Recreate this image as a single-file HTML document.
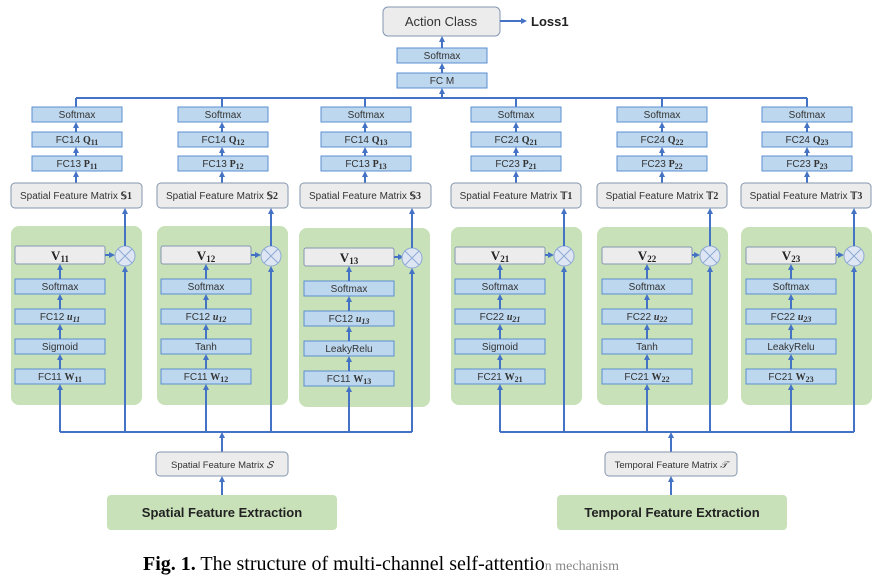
<!DOCTYPE html>
<html><head><meta charset="utf-8"><style>
body{margin:0;background:#fff}
svg{display:block}
text{font-family:"Liberation Sans",sans-serif;fill:#333}
.b{fill:#bdd7ee;stroke:#5b8fd0;stroke-width:1}
.g{fill:#ececec;stroke:#8496b0;stroke-width:1}
.p{fill:#c8e1b8}
.l{stroke:#4472c4;stroke-width:2;fill:none}
.t{font-size:10px;text-anchor:middle}
.v{font-family:"Liberation Serif",serif;font-weight:bold;font-size:13px;text-anchor:middle;fill:#222}
.s{font-family:"Liberation Serif",serif;font-weight:bold;font-size:8px}
.m{font-family:"Liberation Serif",serif;font-weight:bold}
</style></head><body>
<svg width="885" height="580" viewBox="0 0 885 580">
<defs><marker id="a" markerWidth="6" markerHeight="6" refX="4" refY="3" orient="auto" markerUnits="userSpaceOnUse"><path d="M0,0L6,3L0,6z" fill="#4472c4"/></marker></defs>

<!-- top -->
<rect x="383" y="7" width="117" height="29" rx="5" class="g"/>
<text x="441" y="26" class="t" style="font-size:13px">Action Class</text>
<line x1="500" y1="21" x2="525" y2="21" class="l" marker-end="url(#a)"/>
<text x="531" y="26" style="font-size:13px;font-weight:bold;fill:#222">Loss1</text>
<rect x="397" y="48" width="90" height="15" class="b"/><text x="442" y="59" class="t">Softmax</text>
<rect x="397" y="73" width="90" height="15" class="b"/><text x="442" y="84" class="t">FC M</text>
<line x1="442" y1="73" x2="442" y2="65" class="l" marker-end="url(#a)"/>
<line x1="442" y1="98" x2="442" y2="90" class="l" marker-end="url(#a)"/>
<line x1="442" y1="48" x2="442" y2="38" class="l" marker-end="url(#a)"/>
<line x1="76" y1="98" x2="807" y2="98" class="l"/>

<!-- bottom lines -->
<line x1="60" y1="432" x2="412" y2="432" class="l"/>
<line x1="500" y1="432" x2="854" y2="432" class="l"/>

<!-- column template via repeated groups -->
<!-- Column 1 -->
<g>
<line x1="76" y1="98" x2="76" y2="107" class="l"/>
<rect x="32" y="107" width="90" height="15" class="b"/><text x="77" y="118" class="t">Softmax</text>
<rect x="32" y="132" width="90" height="15" class="b"/><text x="77" y="143" class="t">FC14 <tspan class="m">Q<tspan class="s" dy="2">11</tspan></tspan></text>
<rect x="32" y="156" width="90" height="15" class="b"/><text x="77" y="167" class="t">FC13 <tspan class="m">P<tspan class="s" dy="2">11</tspan></tspan></text>
<line x1="76" y1="132" x2="76" y2="124" class="l" marker-end="url(#a)"/>
<line x1="76" y1="156" x2="76" y2="149" class="l" marker-end="url(#a)"/>
<line x1="76" y1="183" x2="76" y2="173" class="l" marker-end="url(#a)"/>
<rect x="11" y="183" width="131" height="25" rx="4" class="g"/><text x="76" y="199" class="t">Spatial Feature Matrix <tspan class="m">𝕊1</tspan></text>
<rect x="11" y="226" width="131" height="179" rx="8" class="p"/>
<rect x="15" y="246" width="90" height="18" rx="2" class="g"/><text x="60" y="260" class="v">V<tspan style="font-size:9px" dy="2">11</tspan></text>
<rect x="15" y="279" width="90" height="15" class="b"/><text x="60" y="290" class="t">Softmax</text>
<rect x="15" y="309" width="90" height="15" class="b"/><text x="60" y="320" class="t">FC12 <tspan class="m" font-style="italic">u<tspan class="s" dy="2">11</tspan></tspan></text>
<rect x="15" y="339" width="90" height="15" class="b"/><text x="60" y="350" class="t">Sigmoid</text>
<rect x="15" y="369" width="90" height="15" class="b"/><text x="60" y="380" class="t">FC11 <tspan class="m">W<tspan class="s" dy="2">11</tspan></tspan></text>
<line x1="60" y1="432" x2="60" y2="386" class="l" marker-end="url(#a)"/>
<line x1="60" y1="369" x2="60" y2="356" class="l" marker-end="url(#a)"/>
<line x1="60" y1="339" x2="60" y2="326" class="l" marker-end="url(#a)"/>
<line x1="60" y1="309" x2="60" y2="296" class="l" marker-end="url(#a)"/>
<line x1="60" y1="279" x2="60" y2="266" class="l" marker-end="url(#a)"/>
<line x1="105" y1="255" x2="113" y2="255" class="l" marker-end="url(#a)"/>
<circle cx="125" cy="256" r="10" fill="#dde6f2" stroke="#8ea9d6"/><path d="M118,249L132,263M132,249L118,263" stroke="#8ea9d6"/>
<line x1="125" y1="432" x2="125" y2="268" class="l" marker-end="url(#a)"/>
<line x1="125" y1="246" x2="125" y2="210" class="l" marker-end="url(#a)"/>
</g>
<!-- Column 2 -->
<g transform="translate(146,0)">
<line x1="76" y1="98" x2="76" y2="107" class="l"/>
<rect x="32" y="107" width="90" height="15" class="b"/><text x="77" y="118" class="t">Softmax</text>
<rect x="32" y="132" width="90" height="15" class="b"/><text x="77" y="143" class="t">FC14 <tspan class="m">Q<tspan class="s" dy="2">12</tspan></tspan></text>
<rect x="32" y="156" width="90" height="15" class="b"/><text x="77" y="167" class="t">FC13 <tspan class="m">P<tspan class="s" dy="2">12</tspan></tspan></text>
<line x1="76" y1="132" x2="76" y2="124" class="l" marker-end="url(#a)"/>
<line x1="76" y1="156" x2="76" y2="149" class="l" marker-end="url(#a)"/>
<line x1="76" y1="183" x2="76" y2="173" class="l" marker-end="url(#a)"/>
<rect x="11" y="183" width="131" height="25" rx="4" class="g"/><text x="76" y="199" class="t">Spatial Feature Matrix <tspan class="m">𝕊2</tspan></text>
<rect x="11" y="226" width="131" height="179" rx="8" class="p"/>
<rect x="15" y="246" width="90" height="18" rx="2" class="g"/><text x="60" y="260" class="v">V<tspan style="font-size:9px" dy="2">12</tspan></text>
<rect x="15" y="279" width="90" height="15" class="b"/><text x="60" y="290" class="t">Softmax</text>
<rect x="15" y="309" width="90" height="15" class="b"/><text x="60" y="320" class="t">FC12 <tspan class="m" font-style="italic">u<tspan class="s" dy="2">12</tspan></tspan></text>
<rect x="15" y="339" width="90" height="15" class="b"/><text x="60" y="350" class="t">Tanh</text>
<rect x="15" y="369" width="90" height="15" class="b"/><text x="60" y="380" class="t">FC11 <tspan class="m">W<tspan class="s" dy="2">12</tspan></tspan></text>
<line x1="60" y1="432" x2="60" y2="386" class="l" marker-end="url(#a)"/>
<line x1="60" y1="369" x2="60" y2="356" class="l" marker-end="url(#a)"/>
<line x1="60" y1="339" x2="60" y2="326" class="l" marker-end="url(#a)"/>
<line x1="60" y1="309" x2="60" y2="296" class="l" marker-end="url(#a)"/>
<line x1="60" y1="279" x2="60" y2="266" class="l" marker-end="url(#a)"/>
<line x1="105" y1="255" x2="113" y2="255" class="l" marker-end="url(#a)"/>
<circle cx="125" cy="256" r="10" fill="#dde6f2" stroke="#8ea9d6"/><path d="M118,249L132,263M132,249L118,263" stroke="#8ea9d6"/>
<line x1="125" y1="432" x2="125" y2="268" class="l" marker-end="url(#a)"/>
<line x1="125" y1="246" x2="125" y2="210" class="l" marker-end="url(#a)"/>
</g>
<!-- Column 3 -->
<g transform="translate(289,0)">
<line x1="76" y1="98" x2="76" y2="107" class="l"/>
<rect x="32" y="107" width="90" height="15" class="b"/><text x="77" y="118" class="t">Softmax</text>
<rect x="32" y="132" width="90" height="15" class="b"/><text x="77" y="143" class="t">FC14 <tspan class="m">Q<tspan class="s" dy="2">13</tspan></tspan></text>
<rect x="32" y="156" width="90" height="15" class="b"/><text x="77" y="167" class="t">FC13 <tspan class="m">P<tspan class="s" dy="2">13</tspan></tspan></text>
<line x1="76" y1="132" x2="76" y2="124" class="l" marker-end="url(#a)"/>
<line x1="76" y1="156" x2="76" y2="149" class="l" marker-end="url(#a)"/>
<line x1="76" y1="183" x2="76" y2="173" class="l" marker-end="url(#a)"/>
<rect x="11" y="183" width="131" height="25" rx="4" class="g"/><text x="76" y="199" class="t">Spatial Feature Matrix <tspan class="m">𝕊3</tspan></text>
<rect x="10" y="228" width="131" height="179" rx="8" class="p"/>
<g transform="translate(0,2)">
<rect x="15" y="246" width="90" height="18" rx="2" class="g"/><text x="60" y="260" class="v">V<tspan style="font-size:9px" dy="2">13</tspan></text>
<rect x="15" y="279" width="90" height="15" class="b"/><text x="60" y="290" class="t">Softmax</text>
<rect x="15" y="309" width="90" height="15" class="b"/><text x="60" y="320" class="t">FC12 <tspan class="m" font-style="italic">u<tspan class="s" dy="2">13</tspan></tspan></text>
<rect x="15" y="339" width="90" height="15" class="b"/><text x="60" y="350" class="t">LeakyRelu</text>
<rect x="15" y="369" width="90" height="15" class="b"/><text x="60" y="380" class="t">FC11 <tspan class="m">W<tspan class="s" dy="2">13</tspan></tspan></text>
<line x1="60" y1="430" x2="60" y2="386" class="l" marker-end="url(#a)"/>
<line x1="60" y1="369" x2="60" y2="356" class="l" marker-end="url(#a)"/>
<line x1="60" y1="339" x2="60" y2="326" class="l" marker-end="url(#a)"/>
<line x1="60" y1="309" x2="60" y2="296" class="l" marker-end="url(#a)"/>
<line x1="60" y1="279" x2="60" y2="266" class="l" marker-end="url(#a)"/>
<line x1="105" y1="255" x2="113" y2="255" class="l" marker-end="url(#a)"/>
<circle cx="123" cy="256" r="10" fill="#dde6f2" stroke="#8ea9d6"/><path d="M116,249L130,263M130,249L116,263" stroke="#8ea9d6"/>
<line x1="123" y1="430" x2="123" y2="268" class="l" marker-end="url(#a)"/>
<line x1="123" y1="246" x2="123" y2="208" class="l" marker-end="url(#a)"/>
</g>
</g>
<!-- Column 4 -->
<g transform="translate(440,0)">
<line x1="76" y1="98" x2="76" y2="107" class="l"/>
<rect x="31" y="107" width="90" height="15" class="b"/><text x="76" y="118" class="t">Softmax</text>
<rect x="31" y="132" width="90" height="15" class="b"/><text x="76" y="143" class="t">FC24 <tspan class="m">Q<tspan class="s" dy="2">21</tspan></tspan></text>
<rect x="31" y="156" width="90" height="15" class="b"/><text x="76" y="167" class="t">FC23 <tspan class="m">P<tspan class="s" dy="2">21</tspan></tspan></text>
<line x1="76" y1="132" x2="76" y2="124" class="l" marker-end="url(#a)"/>
<line x1="76" y1="156" x2="76" y2="149" class="l" marker-end="url(#a)"/>
<line x1="76" y1="183" x2="76" y2="173" class="l" marker-end="url(#a)"/>
<rect x="11" y="183" width="130" height="25" rx="4" class="g"/><text x="76" y="199" class="t">Spatial Feature Matrix <tspan class="m">𝕋1</tspan></text>
<rect x="11" y="227" width="131" height="178" rx="8" class="p"/>
<rect x="15" y="247" width="90" height="17" rx="2" class="g"/><text x="60" y="260" class="v">V<tspan style="font-size:9px" dy="2">21</tspan></text>
<rect x="15" y="279" width="90" height="15" class="b"/><text x="60" y="290" class="t">Softmax</text>
<rect x="15" y="309" width="90" height="15" class="b"/><text x="60" y="320" class="t">FC22 <tspan class="m" font-style="italic">u<tspan class="s" dy="2">21</tspan></tspan></text>
<rect x="15" y="339" width="90" height="15" class="b"/><text x="60" y="350" class="t">Sigmoid</text>
<rect x="15" y="369" width="90" height="15" class="b"/><text x="60" y="380" class="t">FC21 <tspan class="m">W<tspan class="s" dy="2">21</tspan></tspan></text>
<line x1="60" y1="432" x2="60" y2="386" class="l" marker-end="url(#a)"/>
<line x1="60" y1="369" x2="60" y2="356" class="l" marker-end="url(#a)"/>
<line x1="60" y1="339" x2="60" y2="326" class="l" marker-end="url(#a)"/>
<line x1="60" y1="309" x2="60" y2="296" class="l" marker-end="url(#a)"/>
<line x1="60" y1="279" x2="60" y2="266" class="l" marker-end="url(#a)"/>
<line x1="105" y1="255" x2="112" y2="255" class="l" marker-end="url(#a)"/>
<circle cx="124" cy="256" r="10" fill="#dde6f2" stroke="#8ea9d6"/><path d="M117,249L131,263M131,249L117,263" stroke="#8ea9d6"/>
<line x1="124" y1="432" x2="124" y2="268" class="l" marker-end="url(#a)"/>
<line x1="124" y1="246" x2="124" y2="210" class="l" marker-end="url(#a)"/>
</g>
<!-- Column 5 -->
<g transform="translate(587,0)">
<line x1="75" y1="98" x2="75" y2="107" class="l"/>
<rect x="30" y="107" width="90" height="15" class="b"/><text x="75" y="118" class="t">Softmax</text>
<rect x="30" y="132" width="90" height="15" class="b"/><text x="75" y="143" class="t">FC24 <tspan class="m">Q<tspan class="s" dy="2">22</tspan></tspan></text>
<rect x="30" y="156" width="90" height="15" class="b"/><text x="75" y="167" class="t">FC23 <tspan class="m">P<tspan class="s" dy="2">22</tspan></tspan></text>
<line x1="75" y1="132" x2="75" y2="124" class="l" marker-end="url(#a)"/>
<line x1="75" y1="156" x2="75" y2="149" class="l" marker-end="url(#a)"/>
<line x1="75" y1="183" x2="75" y2="173" class="l" marker-end="url(#a)"/>
<rect x="10" y="183" width="130" height="25" rx="4" class="g"/><text x="75" y="199" class="t">Spatial Feature Matrix <tspan class="m">𝕋2</tspan></text>
<rect x="10" y="227" width="131" height="178" rx="8" class="p"/>
<rect x="15" y="247" width="90" height="17" rx="2" class="g"/><text x="60" y="260" class="v">V<tspan style="font-size:9px" dy="2">22</tspan></text>
<rect x="15" y="279" width="90" height="15" class="b"/><text x="60" y="290" class="t">Softmax</text>
<rect x="15" y="309" width="90" height="15" class="b"/><text x="60" y="320" class="t">FC22 <tspan class="m" font-style="italic">u<tspan class="s" dy="2">22</tspan></tspan></text>
<rect x="15" y="339" width="90" height="15" class="b"/><text x="60" y="350" class="t">Tanh</text>
<rect x="15" y="369" width="90" height="15" class="b"/><text x="60" y="380" class="t">FC21 <tspan class="m">W<tspan class="s" dy="2">22</tspan></tspan></text>
<line x1="60" y1="432" x2="60" y2="386" class="l" marker-end="url(#a)"/>
<line x1="60" y1="369" x2="60" y2="356" class="l" marker-end="url(#a)"/>
<line x1="60" y1="339" x2="60" y2="326" class="l" marker-end="url(#a)"/>
<line x1="60" y1="309" x2="60" y2="296" class="l" marker-end="url(#a)"/>
<line x1="60" y1="279" x2="60" y2="266" class="l" marker-end="url(#a)"/>
<line x1="105" y1="255" x2="111" y2="255" class="l" marker-end="url(#a)"/>
<circle cx="123" cy="256" r="10" fill="#dde6f2" stroke="#8ea9d6"/><path d="M116,249L130,263M130,249L116,263" stroke="#8ea9d6"/>
<line x1="123" y1="432" x2="123" y2="268" class="l" marker-end="url(#a)"/>
<line x1="123" y1="246" x2="123" y2="210" class="l" marker-end="url(#a)"/>
</g>
<!-- Column 6 -->
<g transform="translate(731,0)">
<line x1="76" y1="98" x2="76" y2="107" class="l"/>
<rect x="31" y="107" width="90" height="15" class="b"/><text x="76" y="118" class="t">Softmax</text>
<rect x="31" y="132" width="90" height="15" class="b"/><text x="76" y="143" class="t">FC24 <tspan class="m">Q<tspan class="s" dy="2">23</tspan></tspan></text>
<rect x="31" y="156" width="90" height="15" class="b"/><text x="76" y="167" class="t">FC23 <tspan class="m">P<tspan class="s" dy="2">23</tspan></tspan></text>
<line x1="76" y1="132" x2="76" y2="124" class="l" marker-end="url(#a)"/>
<line x1="76" y1="156" x2="76" y2="149" class="l" marker-end="url(#a)"/>
<line x1="76" y1="183" x2="76" y2="173" class="l" marker-end="url(#a)"/>
<rect x="10" y="183" width="130" height="25" rx="4" class="g"/><text x="75" y="199" class="t">Spatial Feature Matrix <tspan class="m">𝕋3</tspan></text>
<rect x="10" y="227" width="131" height="178" rx="8" class="p"/>
<rect x="15" y="247" width="90" height="17" rx="2" class="g"/><text x="60" y="260" class="v">V<tspan style="font-size:9px" dy="2">23</tspan></text>
<rect x="15" y="279" width="90" height="15" class="b"/><text x="60" y="290" class="t">Softmax</text>
<rect x="15" y="309" width="90" height="15" class="b"/><text x="60" y="320" class="t">FC22 <tspan class="m" font-style="italic">u<tspan class="s" dy="2">23</tspan></tspan></text>
<rect x="15" y="339" width="90" height="15" class="b"/><text x="60" y="350" class="t">LeakyRelu</text>
<rect x="15" y="369" width="90" height="15" class="b"/><text x="60" y="380" class="t">FC21 <tspan class="m">W<tspan class="s" dy="2">23</tspan></tspan></text>
<line x1="60" y1="432" x2="60" y2="386" class="l" marker-end="url(#a)"/>
<line x1="60" y1="369" x2="60" y2="356" class="l" marker-end="url(#a)"/>
<line x1="60" y1="339" x2="60" y2="326" class="l" marker-end="url(#a)"/>
<line x1="60" y1="309" x2="60" y2="296" class="l" marker-end="url(#a)"/>
<line x1="60" y1="279" x2="60" y2="266" class="l" marker-end="url(#a)"/>
<line x1="105" y1="255" x2="111" y2="255" class="l" marker-end="url(#a)"/>
<circle cx="123" cy="256" r="10" fill="#dde6f2" stroke="#8ea9d6"/><path d="M116,249L130,263M130,249L116,263" stroke="#8ea9d6"/>
<line x1="123" y1="432" x2="123" y2="268" class="l" marker-end="url(#a)"/>
<line x1="123" y1="246" x2="123" y2="210" class="l" marker-end="url(#a)"/>
</g>

<!-- bottom -->
<line x1="222" y1="452" x2="222" y2="434" class="l" marker-end="url(#a)"/>
<rect x="156" y="452" width="132" height="24" rx="4" class="g"/><text x="222" y="468" class="t" style="font-size:9.5px">Spatial Feature Matrix <tspan font-style="italic">𝑆</tspan></text>
<line x1="222" y1="495" x2="222" y2="478" class="l" marker-end="url(#a)"/>
<rect x="107" y="495" width="230" height="35" rx="4" class="p"/><text x="222" y="517" class="t" style="font-size:13px;font-weight:bold;fill:#222">Spatial Feature Extraction</text>
<line x1="671" y1="452" x2="671" y2="434" class="l" marker-end="url(#a)"/>
<rect x="605" y="452" width="132" height="24" rx="4" class="g"/><text x="671" y="468" class="t" style="font-size:9.5px">Temporal Feature Matrix <tspan font-style="italic">𝒯</tspan></text>
<line x1="671" y1="495" x2="671" y2="478" class="l" marker-end="url(#a)"/>
<rect x="557" y="495" width="230" height="35" rx="4" class="p"/><text x="672" y="517" class="t" style="font-size:13px;font-weight:bold;fill:#222">Temporal Feature Extraction</text>

<text x="143" y="570" style="font-family:'Liberation Serif',serif;font-size:20px;fill:#000"><tspan font-weight="bold">Fig. 1.</tspan> The structure of multi-channel self-attentio<tspan fill="#888" font-size="14">n mechanism</tspan></text>
</svg>
</body></html>
